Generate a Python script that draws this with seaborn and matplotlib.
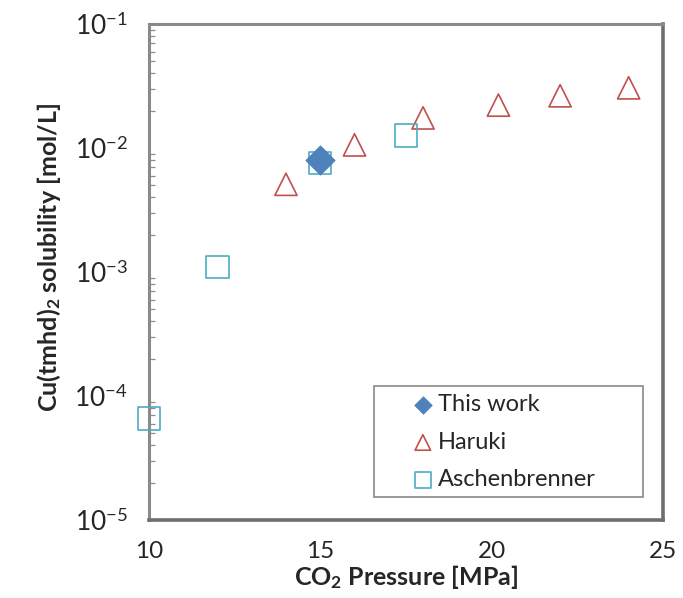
import matplotlib
matplotlib.use("Agg")
import matplotlib.pyplot as plt
import matplotlib.ticker as mticker
from matplotlib.patches import Rectangle
import seaborn as sns
import pandas as pd

# Cu(tmhd)2 solubility in supercritical CO2
this_work_p = [15.0]
this_work_s = [8.0e-3]

haruki_p = [14.0, 16.0, 18.0, 20.2, 22.0, 24.0]
haruki_s = [5.1e-3, 1.06e-2, 1.75e-2, 2.22e-2, 2.64e-2, 3.06e-2]

aschen_p = [10.0, 12.0, 15.0, 17.5]
aschen_s = [6.6e-5, 1.1e-3, 7.6e-3, 1.26e-2]

x_ticks = [10, 15, 20, 25]
y_ticks = [1e-5, 1e-4, 1e-3, 1e-2, 1e-1]
y_tick_labels = [r"$10^{-5}$", r"$10^{-4}$", r"$10^{-3}$", r"$10^{-2}$", r"$10^{-1}$"]

sns.set_theme(style="white")
plt.rcParams["font.family"] = ["Lato", "DejaVu Sans"]
plt.rcParams["mathtext.fontset"] = "custom"
plt.rcParams["mathtext.rm"] = "Lato"
plt.rcParams["mathtext.it"] = "Lato:italic"
plt.rcParams["mathtext.bf"] = "Lato:bold"

fig = plt.figure(figsize=(6.83, 5.98), dpi=100)
ax = fig.add_axes([0.218, 0.1304, 0.7526, 0.8294])

df_tw = pd.DataFrame({"p": this_work_p, "s": this_work_s})
df_h = pd.DataFrame({"p": haruki_p, "s": haruki_s})
df_a = pd.DataFrame({"p": aschen_p, "s": aschen_s})

sns.scatterplot(data=df_h, x="p", y="s", ax=ax, marker="^", s=16 ** 2,
                facecolor="none", edgecolor="#C0504D", linewidth=1.2,
                label="Haruki", zorder=3, clip_on=False)
sns.scatterplot(data=df_a, x="p", y="s", ax=ax, marker="s", s=16 ** 2,
                facecolor="none", edgecolor="#4BACC6", linewidth=1.2,
                label="Aschenbrenner", zorder=3, clip_on=False)
sns.scatterplot(data=df_tw, x="p", y="s", ax=ax, marker="D", s=15 ** 2,
                color="#4F81BD", edgecolor="#4F81BD", linewidth=0.5,
                label="This work", zorder=4, clip_on=False)

ax.set_yscale("log")
ax.set_xlim(10, 25)
ax.set_ylim(1e-5, 1e-1)

ax.set_xticks(x_ticks)
ax.set_xticklabels([str(v) for v in x_ticks], fontsize=17.5,
                   family=["Liberation Sans Narrow", "Lato"])
ax.set_yticks(y_ticks)
ax.set_yticklabels(y_tick_labels, fontsize=19)
ax.yaxis.set_minor_locator(mticker.LogLocator(base=10, subs=range(2, 10)))
ax.yaxis.set_minor_formatter(mticker.NullFormatter())

ax.tick_params(axis="x", which="major", direction="in", length=5.5, width=0.8,
               color="#8c8c8c", pad=15)
ax.tick_params(axis="y", which="major", direction="in", length=7, width=1.2,
               color="#8c8c8c", pad=15)
ax.tick_params(axis="y", which="minor", direction="in", length=4.5, width=0.9,
               color="#8c8c8c", left=True)

for side in ["left", "top"]:
    ax.spines[side].set_color("#8a8a8a")
    ax.spines[side].set_linewidth(2.2)
for side in ["right", "bottom"]:
    ax.spines[side].set_color("#6e6e6e")
    ax.spines[side].set_linewidth(2.6)

ax.set_xlabel(r"CO$_\mathbf{2}$ Pressure [MPa]", fontsize=18, fontweight="bold",
              labelpad=1)
ax.set_ylabel(r"Cu(tmhd)$_\mathbf{2}$ solubility [mol/L]", fontsize=18,
              fontweight="bold")
ax.yaxis.set_label_coords(-0.167, 0.53)

# legend: frame drawn separately so the entries can sit right of the padding
ax.add_patch(Rectangle((0.4377, 0.0464), 0.5233, 0.2236, transform=ax.transAxes,
                       facecolor="white", edgecolor="#7f7f7f", linewidth=1.1,
                       zorder=5))
handles, labels = ax.get_legend_handles_labels()
order = [labels.index("This work"), labels.index("Haruki"), labels.index("Aschenbrenner")]
leg = ax.legend([handles[i] for i in order], [labels[i] for i in order],
                loc="center left", bbox_to_anchor=(0.510, 0.157), fontsize=17,
                frameon=False, borderpad=0.0, borderaxespad=0.0,
                handlelength=1.0, handletextpad=0.14, labelspacing=0.69)
leg.set_zorder(6)
for h, size in zip(leg.legend_handles, [80, 125, 125]):
    h.set_sizes([size])

fig.savefig("out.png", dpi=100)
